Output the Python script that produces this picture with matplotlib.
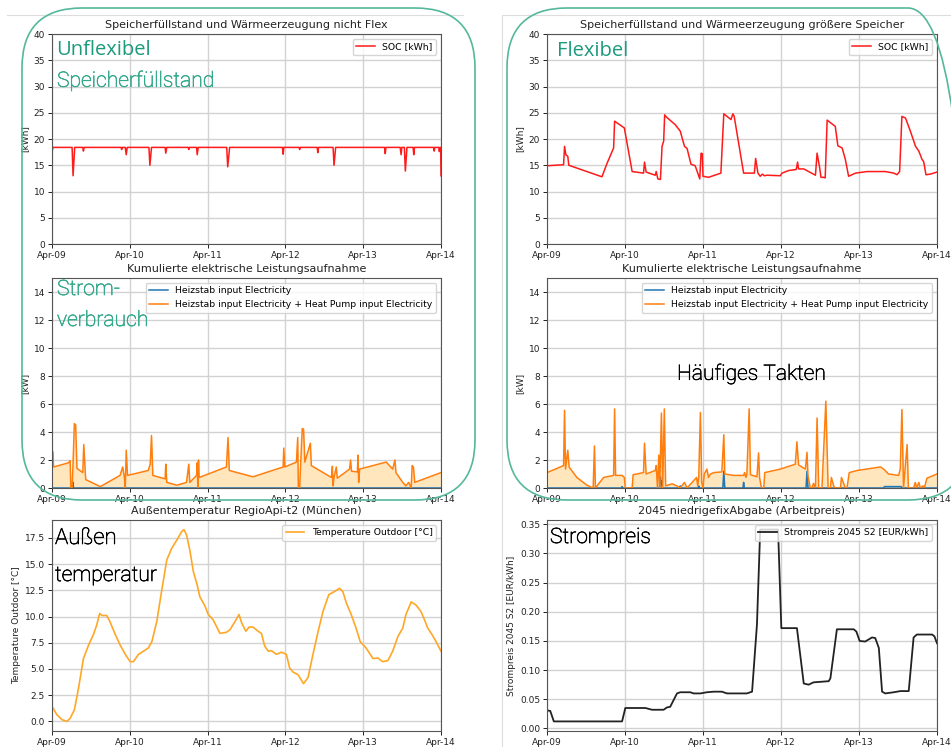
import numpy as np
import pandas as pd
import matplotlib
matplotlib.use("Agg")
import matplotlib.pyplot as plt
import matplotlib.dates as mdates
import matplotlib.patches as mpatches
import matplotlib.patheffects as pe
from matplotlib.lines import Line2D
from matplotlib.ticker import FormatStrFormatter, MultipleLocator

# ---------------- data (hours since 2023-04-09 00:00) ----------------
start_date = "2023-04-09"
end_date = "2023-04-14"

# SOC, not flexible
soc_nf_t = [0.0, 0.3, 6.2, 6.5, 7.0, 9.5, 9.7, 9.9, 21.3, 21.5, 21.7, 22.6, 22.9, 23.2,
            29.9, 30.2, 30.7, 34.9, 35.1, 35.4, 42.0, 42.2, 42.4, 44.6, 44.8, 45.1,
            53.9, 54.2, 54.8, 71.1, 71.3, 71.5, 76.2, 76.4, 76.6, 81.8, 82.0, 82.2,
            86.7, 87.0, 87.5, 102.6, 102.8, 103.0, 107.4, 107.7, 107.9, 108.7, 109.0, 109.5,
            111.4, 111.6, 111.8, 117.7, 117.9, 118.1, 119.3, 119.5, 119.7, 119.9, 120.0]
soc_nf_v = [17.5, 18.4, 18.4, 13.0, 18.4, 18.4, 17.7, 18.4, 18.4, 18.0, 18.4, 18.4, 17.0, 18.4,
            18.4, 15.0, 18.4, 18.4, 17.3, 18.4, 18.4, 18.0, 18.4, 18.4, 17.0, 18.4,
            18.4, 14.7, 18.4, 18.4, 17.1, 18.4, 18.4, 18.0, 18.4, 18.4, 17.4, 18.4,
            18.4, 15.0, 18.4, 18.4, 17.2, 18.4, 18.4, 17.0, 18.4, 18.4, 13.9, 18.4,
            18.4, 17.0, 18.4, 18.4, 17.7, 18.4, 18.4, 17.6, 18.4, 18.4, 13.0]

# SOC, flexible (larger storage)
soc_fx_t = [0, 5.1, 5.4, 5.8, 6.4, 6.7, 16.9, 18.5, 20.5, 20.8, 23.8, 26.2, 29.7, 30.0, 30.5,
            33.3, 33.6, 34.1, 34.9, 35.4, 35.9, 36.2, 36.7, 39.5, 41.0, 42.3, 43.1, 44.3, 45.6,
            47.0, 47.4, 47.8, 48.0, 49.7, 53.5, 54.4, 56.6, 57.2, 57.6, 60.5, 63.8, 64.2, 64.9,
            65.6, 66.3, 66.9, 67.7, 71.8, 72.3, 74.4, 76.7, 77.1, 77.4, 79.0, 82.6, 83.1, 83.9,
            84.3, 85.1, 85.6, 86.2, 88.7, 89.5, 90.8, 91.8, 92.8, 94.9, 98.5, 104.1, 106.7, 107.7,
            108.5, 109.2, 110.3, 111.8, 113.4, 114.4, 115.4, 115.9, 116.6, 117.9, 120]
soc_fx_v = [14.9, 15.1, 18.6, 17.0, 16.7, 15.0, 12.8, 15.4, 18.3, 23.4, 22.1, 13.8, 13.5, 15.6, 13.7,
            13.1, 13.8, 12.4, 12.3, 18.6, 19.6, 24.6, 24.2, 22.7, 21.5, 18.6, 18.2, 15.2, 14.9,
            12.4, 17.3, 17.2, 12.9, 12.7, 13.5, 24.8, 23.7, 24.8, 24.3, 13.5, 13.5, 16.3, 13.5,
            12.9, 13.3, 13.0, 13.1, 13.0, 13.5, 14.0, 14.2, 15.6, 14.3, 14.3, 13.1, 17.3, 14.5,
            12.7, 12.7, 12.6, 23.6, 22.4, 18.7, 18.3, 16.1, 12.9, 13.5, 13.8, 13.8, 13.5, 13.2,
            13.8, 24.3, 24.0, 21.5, 18.6, 17.7, 16.1, 15.7, 13.2, 13.3, 13.7]

# Electric power, not flexible: total (Heizstab + heat pump)
pow_nf_t = [0.0, 0.2, 0.5, 5.1, 5.6, 5.8, 6.2, 6.5, 6.9, 7.3,
            7.7, 9.5, 9.8, 10.4, 14.9, 21.0, 21.8, 22.3, 22.6, 22.9,
            23.3, 29.7, 30.3, 30.7, 31.1, 34.9, 35.1, 35.4, 38.5, 41.5,
            42.2, 42.5, 44.6, 44.8, 45.0, 45.2, 45.4, 53.8, 54.3, 54.7,
            62.0, 71.3, 71.5, 71.8, 75.4, 75.8, 76.0, 76.4, 76.7, 77.2,
            77.6, 78.0, 79.7, 80.0, 86.2, 86.5, 86.7, 87.0, 87.7, 88.0,
            91.8, 92.1, 92.4, 94.2, 94.4, 94.6, 94.9, 103.1, 105.1, 105.8,
            106.1, 108.2, 109.2, 110.0, 110.8, 111.1, 111.5, 111.9, 120.0]
pow_nf_v = [0.9, 2.6, 1.5, 1.8, 1.95, 0.0, 0.0, 1.8, 4.6, 4.5,
            1.4, 1.1, 3.1, 0.6, 0.1, 0.9, 1.5, 0.8, 0.0, 2.7,
            0.9, 1.25, 1.7, 3.75, 0.9, 0.65, 1.7, 0.4, 0.2, 0.4,
            1.7, 0.4, 0.9, 1.8, 0.0, 2.0, 0.75, 1.5, 3.6, 1.25,
            0.8, 1.5, 2.85, 1.5, 1.85, 3.6, 0.0, 0.0, 1.7, 4.25,
            4.2, 1.85, 3.2, 1.6, 0.75, 1.55, 0.15, 0.75, 1.5, 0.7,
            1.35, 2.0, 1.2, 1.15, 2.35, 0.4, 1.35, 1.85, 1.35, 2.0,
            1.1, 0.4, 0.15, 0.4, 0.0, 1.6, 1.5, 0.4, 1.1]
# Heizstab only, not flexible
hs_nf_t = [0.0, 6.4, 6.5, 6.6, 120.0]
hs_nf_v = [0.0, 0.0, 0.4, 0.0, 0.0]

# Electric power, flexible: total
pow_fx_t = [0, 5.1, 5.4, 5.7, 6.4, 6.8, 9.2, 12.3, 14.2, 14.6,
            14.9, 17.4, 20.5, 20.8, 21.1, 23.1, 23.8, 24.1, 26.2, 26.5,
            29.7, 30.0, 30.5, 33.3, 33.6, 34.0, 34.4, 34.7, 35.2, 35.6,
            36.1, 36.5, 38.5, 40.0, 41.0, 42.3, 43.1, 46.0, 46.4, 46.7,
            47.2, 47.6, 48.0, 48.4, 49.2, 49.7, 50.3, 51.3, 53.8, 54.4,
            54.7, 57.4, 60.5, 60.8, 61.2, 61.5, 62.2, 62.6, 64.6, 65.1,
            65.4, 66.0, 66.7, 67.0, 71.8, 76.4, 76.9, 77.4, 79.5, 80.0,
            80.3, 81.0, 81.5, 82.0, 82.6, 83.1, 83.6, 84.6, 85.8, 86.5,
            87.2, 87.5, 88.2, 88.7, 90.3, 90.6, 91.8, 92.3, 93.0, 95.4,
            102.6, 103.6, 105.1, 108.2, 108.7, 109.2, 109.7, 110.8, 111.2, 112.8,
            113.3, 113.8, 114.4, 114.9, 115.7, 116.1, 116.9, 120.0]
pow_fx_v = [1.1, 1.6, 5.55, 1.35, 2.7, 1.5, 0.75, 0.2, 0.0, 3.0,
            0.0, 0.75, 0.9, 5.65, 0.9, 0.9, 0.75, 0.0, 0.0, 0.95,
            1.1, 3.2, 1.0, 1.25, 1.6, 0.0, 2.35, 0.0, 5.35, 0.0,
            5.65, 0.15, 0.3, 0.15, 0.0, 0.4, 0.0, 0.75, 0.15, 0.8,
            5.4, 0.4, 0.0, 1.0, 1.35, 0.75, 1.0, 1.1, 1.15, 3.8,
            1.0, 0.9, 0.9, 1.1, 0.75, 0.95, 5.65, 0.95, 0.8, 2.5,
            0.75, 0.0, 0.0, 1.1, 1.35, 1.7, 3.3, 1.65, 1.35, 2.55,
            0.9, 0.0, 0.0, 0.33, 0.0, 5.0, 0.0, 0.0, 6.2, 0.0,
            0.0, 0.75, 0.15, 0.0, 0.0, 0.75, 0.0, 0.0, 1.1, 1.25,
            1.5, 1.35, 1.0, 0.9, 1.35, 5.6, 0.0, 3.1, 0.0, 0.0,
            0.4, 0.0, 0.4, 0.0, 0.15, 0.0, 0.7, 1.0]
# Heizstab only, flexible
hs_fx_t = [0, 22.9, 23.1, 23.3, 34.6, 34.9, 35.1, 35.3, 35.5, 40.8, 41.0, 41.2, 46.5, 46.7, 46.9,
           54.1, 54.4, 54.7, 60.3, 60.5, 60.7, 79.7, 80.0, 80.3, 103.6, 103.8, 109.0, 109.2, 120]
hs_fx_v = [0, 0, 0.1, 0, 0, 0.8, 0.3, 0.5, 0, 0, 0.15, 0, 0, 0.15, 0,
           0, 1.2, 0, 0, 0.4, 0, 0, 1.2, 0, 0, 0.1, 0.1, 0, 0]

# Outdoor temperature
temp_t = [0, 1.5, 3.1, 4.6, 5.6, 6.9, 8.2, 9.7, 11.3, 12.8,
          13.8, 14.7, 15.4, 16.9, 17.9, 19.5, 21.0, 22.6, 24.1, 25.1,
          26.7, 28.2, 29.7, 30.8, 32.3, 33.8, 35.4, 36.9, 38.5, 40.0,
          40.7, 41.5, 42.6, 43.6, 44.8, 45.6, 47.2, 48.2, 49.7, 51.8,
          53.8, 54.9, 56.4, 57.7, 58.5, 59.8, 60.8, 62.0, 63.6, 64.6,
          65.6, 66.7, 67.7, 69.2, 70.8, 72.3, 73.3, 74.4, 75.9, 77.6,
          79.0, 80.5, 82.1, 83.6, 85.4, 87.2, 88.7, 89.7, 90.8, 92.3,
          93.8, 95.1, 96.9, 99.0, 100.5, 102.0, 103.6, 105.1, 106.7, 108.2,
          109.2, 110.8, 112.3, 113.8, 114.9, 115.9, 117.2, 118.5, 120]
temp_v = [1.43, 0.64, 0.16, 0.0, 0.3, 1.1, 3.2, 6.0, 7.3, 8.3,
          9.2, 10.3, 10.1, 10.1, 9.5, 8.3, 7.3, 6.4, 5.7, 5.7,
          6.4, 6.7, 7.0, 7.6, 9.5, 12.4, 15.4, 16.5, 17.3, 18.1,
          18.3, 17.8, 16.2, 14.3, 13.0, 11.9, 11.0, 10.2, 9.7, 8.4,
          8.5, 8.75, 9.5, 10.2, 9.4, 8.6, 9.0, 9.0, 8.6, 8.4,
          7.2, 6.7, 6.75, 6.4, 6.6, 6.4, 5.1, 4.7, 4.45, 3.6,
          4.2, 6.4, 8.6, 10.5, 12.1, 12.4, 12.7, 12.4, 11.3, 10.2,
          8.9, 7.6, 7.0, 6.0, 6.05, 5.7, 5.8, 6.7, 8.1, 8.9,
          10.2, 11.4, 11.1, 10.5, 9.7, 8.9, 8.3, 7.6, 6.7]

# Electricity price
price_t = [0, 1.0, 2.1, 23.1, 24.1, 30.3, 32.3, 35.9, 36.9, 37.9,
           40.0, 41.0, 44.1, 45.1, 47.2, 49.2, 51.3, 53.8, 55.4, 61.5,
           63.1, 64.6, 65.6, 71.1, 72.1, 76.9, 79.0, 80.5, 82.0, 86.7,
           87.2, 89.2, 94.4, 95.2, 96.2, 97.9, 100.0, 101.0, 102.1, 103.1,
           104.1, 106.7, 108.7, 111.3, 112.8, 113.8, 118.5, 119.2, 120]
price_v = [0.031, 0.030, 0.012, 0.012, 0.035, 0.035, 0.032, 0.032, 0.036, 0.037,
           0.060, 0.062, 0.062, 0.060, 0.060, 0.062, 0.063, 0.063, 0.060, 0.060,
           0.063, 0.178, 0.341, 0.341, 0.172, 0.172, 0.077, 0.075, 0.079, 0.081,
           0.086, 0.170, 0.170, 0.166, 0.150, 0.149, 0.156, 0.155, 0.138, 0.063,
           0.060, 0.062, 0.064, 0.064, 0.156, 0.161, 0.161, 0.158, 0.146]

titles = ["Speicherfüllstand und Wärmeerzeugung nicht Flex",
          "Speicherfüllstand und Wärmeerzeugung größere Speicher",
          "Kumulierte elektrische Leistungsaufnahme",
          "Kumulierte elektrische Leistungsaufnahme",
          "Außentemperatur RegioApi-t2 (München)",
          "2045 niedrigefixAbgabe (Arbeitpreis)"]

# ---------------- helpers ----------------
base = pd.Timestamp(start_date)
def to_dt(hours):
    return base + pd.to_timedelta(np.asarray(hours, dtype=float), unit="h")

W, H = 951, 747
fig = plt.figure(figsize=(W / 100, H / 100), dpi=100)
fig.patch.set_facecolor("white")

def rect(x0, x1, y0, y1):
    return [x0 / W, 1 - y1 / H, (x1 - x0) / W, (y1 - y0) / H]

TICK_FS = 6.5
TITLE_FS = 8.0
LEG_FS = 6.7

def style(ax, title, ylabel):
    ax.set_title(title, fontsize=TITLE_FS, pad=4, color="#222222")
    ax.set_ylabel(ylabel, fontsize=TICK_FS, color="#222222", labelpad=3)
    ax.grid(True, color="#d2d2d2", lw=1.0)
    ax.set_axisbelow(True)
    ax.tick_params(labelsize=TICK_FS, colors="#222222", length=3, width=0.7, pad=2)
    for s in ax.spines.values():
        s.set_color("#555555")
        s.set_linewidth(0.8)
    ax.xaxis.set_major_locator(mdates.DayLocator())
    ax.xaxis.set_major_formatter(mdates.DateFormatter("%b-%d"))
    ax.set_xlim(pd.Timestamp(start_date), pd.Timestamp(end_date))

cols = [(52, 441), (547, 937)]
rows = [(34, 244), (278, 488), (520, 731)]

# Row 1: SOC
for c, (tt, vv) in enumerate([(soc_nf_t, soc_nf_v), (soc_fx_t, soc_fx_v)]):
    ax = fig.add_axes(rect(cols[c][0], cols[c][1], *rows[0]))
    ax.plot(to_dt(tt), vv, color="#ff1a1a", lw=1.1, label="SOC [kWh]")
    ax.set_ylim(0, 40)
    ax.yaxis.set_major_locator(MultipleLocator(5))
    style(ax, titles[c], "[kWh]")
    ax.legend(loc="upper right", fontsize=LEG_FS)

# Row 2: power
for c, (ht, hv, pt, pv) in enumerate([(hs_nf_t, hs_nf_v, pow_nf_t, pow_nf_v),
                                      (hs_fx_t, hs_fx_v, pow_fx_t, pow_fx_v)]):
    ax = fig.add_axes(rect(cols[c][0], cols[c][1], *rows[1]))
    ax.fill_between(to_dt(pt), 0, pv, color="#ffe6bd", lw=0)
    ax.fill_between(to_dt(ht), 0, hv, color="#1f77b4", alpha=0.5, lw=0)
    ax.plot(to_dt(ht), hv, color="#1f77b4", lw=1.1, label="Heizstab input Electricity")
    ax.plot(to_dt(pt), pv, color="#ff7f0e", lw=1.1,
            label="Heizstab input Electricity + Heat Pump input Electricity")
    ax.set_ylim(0, 15)
    ax.yaxis.set_major_locator(MultipleLocator(2))
    style(ax, titles[2 + c], "[kW]")
    ax.legend(loc="upper right", fontsize=LEG_FS)

# Row 3 left: temperature
ax = fig.add_axes(rect(cols[0][0], cols[0][1], *rows[2]))
ax.plot(to_dt(temp_t), temp_v, color="#ffa726", lw=1.2, label="Temperature Outdoor [°C]")
ax.yaxis.set_major_locator(MultipleLocator(2.5))
ax.yaxis.set_major_formatter(FormatStrFormatter("%.1f"))
style(ax, titles[4], "Temperature Outdoor [°C]")
ax.legend(loc="upper right", fontsize=LEG_FS)

# Row 3 right: price
ax = fig.add_axes(rect(cols[1][0], cols[1][1], *rows[2]))
ax.plot(to_dt(price_t), price_v, color="#222222", lw=1.3, label="Strompreis 2045 S2 [EUR/kWh]")
ax.yaxis.set_major_locator(MultipleLocator(0.05))
ax.yaxis.set_major_formatter(FormatStrFormatter("%.2f"))
style(ax, titles[5], "Strompreis 2045 S2 [EUR/kWh]")
ax.legend(loc="upper right", fontsize=LEG_FS)

# ---------------- screenshot decorations ----------------
def px_line(xs, ys, color="#dddddd", lw=0.8):
    fig.add_artist(Line2D([x / W for x in xs], [1 - y / H for y in ys],
                          transform=fig.transFigure, color=color, lw=lw))

px_line([7, 463], [15, 15])
px_line([502, 951], [15, 15])
px_line([502, 502], [15, 747])

teal = "#55b89c"
for (x0, x1) in [(22, 475), (507, 968)]:
    y0, y1 = 8, 500
    p = mpatches.FancyBboxPatch((x0 / 100, (H - y1) / 100), (x1 - x0) / 100, (y1 - y0) / 100,
                                boxstyle="round,pad=0,rounding_size=0.6",
                                transform=fig.dpi_scale_trans, fill=False,
                                edgecolor=teal, lw=1.2, zorder=10)
    fig.add_artist(p)

light_font = ["Roboto", "Open Sans", "DejaVu Sans"]
reg_font = ["Open Sans", "DejaVu Sans"]
def ann(x, y, s, color, size=15.0, weight="light", family=None, stroke=0.45):
    t = fig.text(x / W, 1 - y / H, s, color=color, fontsize=size,
                 family=family or light_font, weight=weight,
                 va="top", ha="left", zorder=11)
    if stroke:
        t.set_path_effects([pe.withStroke(linewidth=stroke, foreground=color)])

ann(56, 40, "Unflexibel", "#1b9a7c", size=14.5, weight="normal", family=reg_font, stroke=0)
ann(57, 71, "Speicherfüllstand", "#34a98c", size=15.2)
ann(57, 280, "Strom-", "#34a98c", size=15.2)
ann(57, 311, "verbrauch", "#34a98c", size=15.2)
ann(557, 41, "Flexibel", "#1b9a7c", size=14.5, weight="normal", family=reg_font, stroke=0)
ann(677, 364, "Häufiges Takten", "#000000", size=15.2)
ann(55, 528, "Außen", "#000000", size=16)
ann(55, 566, "temperatur", "#000000", size=15.2)
ann(550, 528, "Strompreis", "#000000", size=15.2)

fig.savefig("out.png", dpi=100)
